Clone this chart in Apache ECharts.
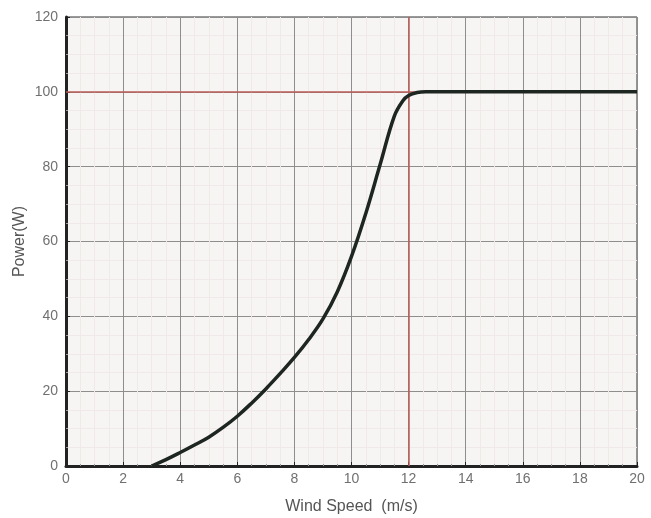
<!DOCTYPE html>
<html>
<head>
<meta charset="utf-8">
<script src="https://cdn.jsdelivr.net/npm/echarts@6/dist/echarts.min.js"></script>
<style>
  html, body { margin: 0; padding: 0; background: #fff; }
  #chart { width: 651px; height: 518px; }
</style>
</head>
<body>
<div id="chart"></div>
<script>
// wind speed (m/s) and power (W)
var windSpeed = [3, 3.5, 4, 4.5, 5, 5.5, 6, 6.5, 7, 7.5, 8, 8.5, 9, 9.5, 10, 10.5, 11, 11.5, 11.8, 12, 12.3, 12.6, 14, 16, 18, 20];
var power     = [0, 1.7, 3.6, 5.6, 7.7, 10.3, 13.3, 16.8, 20.6, 24.7, 29, 33.8, 39.3, 46.5, 56, 67.5, 80.5, 93.5, 97.6, 99, 99.8, 100, 100, 100, 100, 100];
var ratedSpeed = 12;
var ratedPower = 100;

var myChart = echarts.init(document.getElementById('chart'));
var pts = windSpeed.map(function (x, i) { return [x, power[i]]; });

option = {
    backgroundColor: '#ffffff',
    textStyle: { fontFamily: 'Liberation Sans, Arial, sans-serif' },
    grid: {
        left: 66, right: 14, top: 17, bottom: 52,
        outerBoundsMode: 'none',
        show: true,
        backgroundColor: '#f7f5f3',
        borderColor: '#333',
        borderWidth: 1
    },
    xAxis: {
        type: 'value',
        min: 0, max: 20, interval: 2,
        name: 'Wind Speed  (m/s)',
        nameLocation: 'middle',
        nameMoveOverlap: false,
        nameGap: 33,
        nameTextStyle: { color: '#555', fontSize: 16 },
        axisLine: { lineStyle: { color: '#222', width: 3 } },
        axisTick: { inside: true, length: 4, lineStyle: { color: '#222' } },
        minorTick: { show: true, splitNumber: 4, length: 2, lineStyle: { color: '#999' } },
        axisLabel: { color: '#707070', fontSize: 14, margin: 6 },
        splitLine: { show: true, lineStyle: { color: '#8e8e8e', width: 1 } },
        minorSplitLine: { show: true, lineStyle: { color: '#f1e9e7', width: 1 } }
    },
    yAxis: {
        type: 'value',
        min: 0, max: 120, interval: 20,
        name: 'Power(W)',
        nameLocation: 'middle',
        nameMoveOverlap: false,
        nameGap: 38,
        nameTextStyle: { color: '#555', fontSize: 16 },
        axisLine: { show: true, lineStyle: { color: '#222', width: 3 } },
        axisTick: { show: true, inside: true, length: 4, lineStyle: { color: '#222' } },
        minorTick: { show: true, splitNumber: 4, length: 2, lineStyle: { color: '#999' } },
        axisLabel: { color: '#707070', fontSize: 14, margin: 8 },
        splitLine: { show: true, lineStyle: { color: '#8e8e8e', width: 1 } },
        minorSplitLine: { show: true, lineStyle: { color: '#f1e9e7', width: 1 } }
    },
    series: [
        {
            type: 'line',
            data: pts,
            smooth: 0.4,
            showSymbol: false,
            lineStyle: { color: '#1e2622', width: 3.5 },
            z: 5,
            markLine: {
                silent: true,
                symbol: 'none',
                label: { show: false },
                lineStyle: { color: '#b85d57', width: 1.5, type: 'solid' },
                data: [{ xAxis: ratedSpeed }, { yAxis: ratedPower }]
            }
        }
    ]
};
myChart.setOption(option);
</script>
</body>
</html>
